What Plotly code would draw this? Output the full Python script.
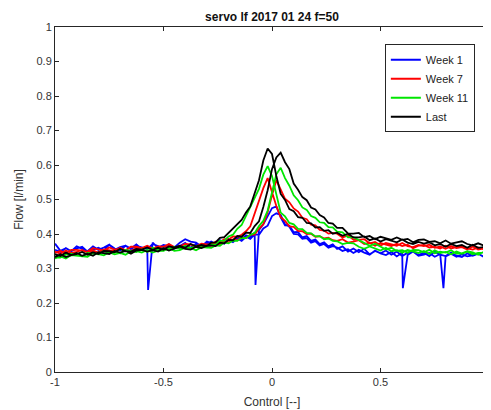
import plotly.graph_objects as go

# ---------------- data ----------------
X_LEFT = [-1.000, -0.975, -0.950, -0.925, -0.900, -0.875, -0.850, -0.825, -0.800, -0.775,
          -0.750, -0.725, -0.700, -0.675, -0.650, -0.625, -0.600, -0.575, -0.550, -0.525,
          -0.500, -0.475, -0.450, -0.425, -0.400, -0.375, -0.350, -0.325, -0.300]
X_MID = [-0.28, -0.26, -0.24, -0.22, -0.20, -0.18, -0.16, -0.14, -0.12, -0.10,
         -0.08, -0.06, -0.04, -0.02, 0.00, 0.02, 0.04, 0.06, 0.08, 0.10,
         0.12, 0.14, 0.16, 0.18, 0.20, 0.22, 0.24, 0.26, 0.28]
X_RIGHT = [0.300, 0.325, 0.350, 0.375, 0.400, 0.425, 0.450, 0.475, 0.500, 0.525,
           0.550, 0.575, 0.600, 0.625, 0.650, 0.675, 0.700, 0.725, 0.750, 0.775,
           0.800, 0.825, 0.850, 0.875, 0.900, 0.925, 0.950, 0.975, 1.000]

# Week 1 (blue), branch A (forward sweep) and branch B (return sweep)
W1_A = [0.372, 0.351, 0.359, 0.350, 0.364, 0.357, 0.350, 0.364, 0.354, 0.361,
        0.369, 0.354, 0.362, 0.366, 0.358, 0.370, 0.356, 0.364, 0.375, 0.360,
        0.368, 0.365, 0.361, 0.375, 0.385, 0.378, 0.375, 0.364, 0.372,
        0.378, 0.371, 0.382, 0.375, 0.386, 0.379, 0.391, 0.384, 0.396, 0.392,
        0.404, 0.412, 0.428, 0.450, 0.475, 0.480, 0.448, 0.425, 0.424, 0.405,
        0.406, 0.390, 0.394, 0.380, 0.384, 0.371, 0.376, 0.364, 0.370,
        0.357, 0.364, 0.349, 0.358, 0.347, 0.357, 0.341, 0.351, 0.344, 0.352,
        0.340, 0.349, 0.336, 0.346, 0.349, 0.339, 0.346, 0.336, 0.349, 0.340,
        0.336, 0.346, 0.337, 0.333, 0.344, 0.337, 0.343, 0.334, 0.341]
W1_B = [0.354, 0.348, 0.359, 0.350, 0.358, 0.363, 0.349, 0.355, 0.360, 0.352,
        0.369, 0.358, 0.352, 0.366, 0.356, 0.366, 0.362, 0.356, 0.371, 0.365,
        0.358, 0.370, 0.358, 0.365, 0.374, 0.360, 0.371, 0.363, 0.378,
        0.374, 0.368, 0.378, 0.372, 0.383, 0.376, 0.387, 0.380, 0.392, 0.386,
        0.399, 0.398, 0.416, 0.424, 0.452, 0.460, 0.455, 0.428, 0.421, 0.400,
        0.399, 0.386, 0.388, 0.375, 0.379, 0.367, 0.371, 0.360, 0.365,
        0.361, 0.351, 0.356, 0.345, 0.354, 0.346, 0.340, 0.352, 0.344, 0.339,
        0.348, 0.335, 0.346, 0.339, 0.349, 0.337, 0.340, 0.345, 0.334, 0.342,
        0.335, 0.343, 0.334, 0.341, 0.335, 0.338, 0.343, 0.335, 0.340]
# isolated dropouts of Week 1
W1_A_SPIKE_X = [-0.571, -0.076]
W1_A_SPIKE_Y = [0.238, 0.252]
W1_B_SPIKE_X = [0.603, 0.790]
W1_B_SPIKE_Y = [0.243, 0.243]

# Week 7 (red)
W7_A = [0.345, 0.351, 0.345, 0.354, 0.354, 0.351, 0.349, 0.359, 0.356, 0.352,
        0.361, 0.355, 0.358, 0.353, 0.363, 0.363, 0.359, 0.366, 0.358, 0.364,
        0.363, 0.371, 0.362, 0.364, 0.371, 0.370, 0.364, 0.372, 0.370,
        0.370, 0.378, 0.376, 0.385, 0.384, 0.393, 0.392, 0.398, 0.408, 0.422,
        0.460, 0.492, 0.533, 0.562, 0.522, 0.481, 0.449, 0.438, 0.422, 0.421,
        0.409, 0.408, 0.400, 0.401, 0.392, 0.394, 0.387, 0.389, 0.382,
        0.380, 0.385, 0.375, 0.378, 0.382, 0.371, 0.375, 0.366, 0.374, 0.369,
        0.365, 0.372, 0.365, 0.369, 0.359, 0.366, 0.368, 0.361, 0.363, 0.358,
        0.366, 0.358, 0.362, 0.366, 0.358, 0.355, 0.361, 0.356, 0.362]
W7_B = [0.349, 0.343, 0.352, 0.345, 0.348, 0.354, 0.346, 0.352, 0.346, 0.355,
        0.353, 0.350, 0.360, 0.353, 0.351, 0.359, 0.357, 0.363, 0.355, 0.361,
        0.355, 0.365, 0.360, 0.365, 0.359, 0.370, 0.362, 0.366, 0.363,
        0.366, 0.373, 0.370, 0.378, 0.376, 0.384, 0.382, 0.390, 0.388, 0.398,
        0.398, 0.415, 0.428, 0.463, 0.512, 0.556, 0.527, 0.502, 0.492, 0.474,
        0.465, 0.447, 0.443, 0.427, 0.425, 0.412, 0.410, 0.401, 0.403,
        0.401, 0.390, 0.396, 0.384, 0.383, 0.385, 0.373, 0.377, 0.367, 0.374,
        0.371, 0.366, 0.374, 0.365, 0.362, 0.368, 0.365, 0.369, 0.360, 0.364,
        0.357, 0.365, 0.359, 0.362, 0.355, 0.364, 0.355, 0.358, 0.353]

# Week 11 (green)
W11_A = [0.336, 0.332, 0.340, 0.343, 0.337, 0.335, 0.345, 0.343, 0.341, 0.351,
         0.344, 0.349, 0.344, 0.354, 0.351, 0.348, 0.355, 0.348, 0.360, 0.354,
         0.358, 0.353, 0.363, 0.358, 0.366, 0.359, 0.364, 0.367, 0.360,
         0.370, 0.369, 0.380, 0.381, 0.393, 0.398, 0.415, 0.426, 0.452, 0.476,
         0.503, 0.531, 0.572, 0.597, 0.568, 0.510, 0.462, 0.451, 0.432, 0.428,
         0.415, 0.414, 0.403, 0.402, 0.393, 0.394, 0.385, 0.387, 0.380,
         0.379, 0.371, 0.374, 0.373, 0.363, 0.357, 0.364, 0.358, 0.352, 0.360,
         0.350, 0.353, 0.346, 0.354, 0.350, 0.345, 0.351, 0.342, 0.353, 0.345,
         0.348, 0.341, 0.349, 0.343, 0.349, 0.341, 0.345, 0.346, 0.338]
W11_B = [0.329, 0.335, 0.329, 0.339, 0.339, 0.336, 0.334, 0.345, 0.342, 0.338,
         0.347, 0.341, 0.345, 0.340, 0.350, 0.350, 0.346, 0.354, 0.346, 0.352,
         0.351, 0.359, 0.351, 0.353, 0.360, 0.359, 0.353, 0.362, 0.360,
         0.360, 0.367, 0.366, 0.375, 0.373, 0.381, 0.380, 0.389, 0.388, 0.398,
         0.403, 0.423, 0.438, 0.468, 0.522, 0.573, 0.592, 0.562, 0.540, 0.512,
         0.498, 0.477, 0.470, 0.452, 0.447, 0.434, 0.432, 0.420, 0.419,
         0.407, 0.405, 0.390, 0.391, 0.383, 0.374, 0.366, 0.372, 0.364, 0.355,
         0.360, 0.351, 0.353, 0.346, 0.354, 0.353, 0.347, 0.354, 0.344, 0.349,
         0.346, 0.353, 0.343, 0.344, 0.350, 0.347, 0.340, 0.348, 0.345]

# Last (black)
LAST_A = [0.342, 0.336, 0.346, 0.339, 0.342, 0.348, 0.340, 0.347, 0.342, 0.351,
          0.350, 0.347, 0.357, 0.350, 0.349, 0.357, 0.355, 0.361, 0.354, 0.360,
          0.354, 0.364, 0.361, 0.366, 0.360, 0.371, 0.364, 0.368, 0.365,
          0.375, 0.376, 0.389, 0.391, 0.404, 0.416, 0.430, 0.441, 0.462, 0.480,
          0.518, 0.556, 0.613, 0.648, 0.632, 0.568, 0.516, 0.499, 0.472, 0.466,
          0.449, 0.447, 0.432, 0.431, 0.419, 0.420, 0.409, 0.411, 0.401,
          0.404, 0.395, 0.401, 0.390, 0.390, 0.393, 0.382, 0.387, 0.378, 0.385,
          0.381, 0.376, 0.384, 0.375, 0.371, 0.377, 0.372, 0.376, 0.367, 0.371,
          0.363, 0.371, 0.365, 0.368, 0.360, 0.369, 0.360, 0.362, 0.357]
LAST_B = [0.333, 0.341, 0.333, 0.339, 0.345, 0.337, 0.343, 0.337, 0.347, 0.344,
          0.342, 0.351, 0.346, 0.351, 0.343, 0.352, 0.354, 0.349, 0.353, 0.349,
          0.359, 0.352, 0.358, 0.363, 0.357, 0.355, 0.363, 0.359, 0.366,
          0.367, 0.365, 0.375, 0.373, 0.383, 0.382, 0.394, 0.392, 0.404, 0.403,
          0.423, 0.437, 0.478, 0.527, 0.588, 0.622, 0.636, 0.608, 0.588, 0.546,
          0.528, 0.507, 0.498, 0.477, 0.471, 0.455, 0.448, 0.432, 0.430,
          0.418, 0.418, 0.402, 0.401, 0.403, 0.391, 0.394, 0.385, 0.392, 0.387,
          0.383, 0.390, 0.383, 0.386, 0.376, 0.383, 0.384, 0.377, 0.379, 0.373,
          0.381, 0.372, 0.376, 0.379, 0.371, 0.367, 0.373, 0.367, 0.372]

SERIES_NAMES = ["Week 1", "Week 7", "Week 11", "Last"]
SERIES_COLORS = ["#0000FF", "#FF0000", "#00E600", "#000000"]

X_TICKS = [-1, -0.5, 0, 0.5, 1]
X_TICK_LABELS = ["-1", "-0.5", "0", "0.5", "1"]
Y_TICKS = [0, 0.1, 0.2, 0.3, 0.4, 0.5, 0.6, 0.7, 0.8, 0.9, 1]
Y_TICK_LABELS = ["0", "0.1", "0.2", "0.3", "0.4", "0.5", "0.6", "0.7", "0.8", "0.9", "1"]

TITLE = "servo lf 2017 01 24 f=50"
X_LABEL = "Control [--]"
Y_LABEL = "Flow [l/min]"

# ---------------- build ----------------
X_GRID = X_LEFT + X_MID + X_RIGHT


def branch(xs, ys, sx=(), sy=()):
    pts = sorted(list(zip(xs, ys)) + list(zip(sx, sy)))
    return [p[0] for p in pts], [p[1] for p in pts]


def loop(a, b, sax=(), say=(), sbx=(), sby=()):
    ax, ay = branch(X_GRID, a, sax, say)
    bx, by = branch(X_GRID, b, sbx, sby)
    return ax + bx[::-1], ay + by[::-1]


loops = [
    loop(W1_A, W1_B, W1_A_SPIKE_X, W1_A_SPIKE_Y, W1_B_SPIKE_X, W1_B_SPIKE_Y),
    loop(W7_A, W7_B),
    loop(W11_A, W11_B),
    loop(LAST_A, LAST_B),
]

FONT = "Liberation Sans, Arial, Helvetica, sans-serif"
AX_COL = "#262626"

# The page body adds an 8px offset, so the figure is 8px smaller than the window.
FIG_W, FIG_H = 483, 402

fig = go.Figure()
for (lx, ly), name, col in zip(loops, SERIES_NAMES, SERIES_COLORS):
    fig.add_trace(go.Scatter(x=lx, y=ly, mode="lines", name=name,
                             line=dict(color=col, width=1.8)))

axis_common = dict(showgrid=False, zeroline=False, showline=True, linecolor=AX_COL,
                   linewidth=1, mirror="ticks", ticks="inside", ticklen=4,
                   tickcolor=AX_COL, tickwidth=1, automargin=False,
                   tickfont=dict(family=FONT, size=11, color="#333333"))

fig.update_layout(
    width=FIG_W, height=FIG_H,
    margin=dict(l=47, r=2, t=19, b=38),
    paper_bgcolor="white", plot_bgcolor="white",
    font=dict(family=FONT, size=11, color="#333333"),
    title=dict(text="<b>" + TITLE + "</b>", x=0.5, xref="paper", xanchor="center",
               y=1 - 9 / FIG_H, yref="container", yanchor="middle",
               font=dict(family=FONT, size=12, color="#111111")),
    xaxis=dict(range=[-1, 1], tickvals=X_TICKS, ticktext=X_TICK_LABELS,
               title=dict(text=X_LABEL, standoff=10, font=dict(family=FONT, size=12, color="#333333")),
               **axis_common),
    yaxis=dict(range=[0, 1], tickvals=Y_TICKS, ticktext=Y_TICK_LABELS,
               title=dict(text=Y_LABEL, standoff=10, font=dict(family=FONT, size=12, color="#333333")),
               **axis_common),
    legend=dict(x=0.760, y=0.950, xanchor="left", yanchor="top",
                bgcolor="white", bordercolor=AX_COL, borderwidth=1,
                font=dict(family=FONT, size=11, color="#222222"),
                tracegroupgap=0),
    showlegend=True,
)

fig.write_html("out.html")
